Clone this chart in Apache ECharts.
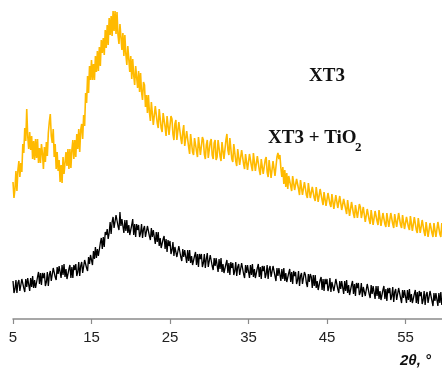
<!DOCTYPE html>
<html>
<head>
<meta charset="utf-8">
<script src="https://cdn.jsdelivr.net/npm/echarts@6/dist/echarts.min.js"></script>
<style>
html,body{margin:0;padding:0;background:#fff;}
#chart{width:442px;height:369px;}
</style>
</head>
<body>
<div id="chart"></div>
<script>
// 2θ scan positions (degrees), one row per degree
const twoTheta = [
5,5.125,5.25,5.375,5.5,5.625,5.75,5.875,
6,6.125,6.25,6.375,6.5,6.625,6.75,6.875,
7,7.125,7.25,7.375,7.5,7.625,7.75,7.875,
8,8.125,8.25,8.375,8.5,8.625,8.75,8.875,
9,9.125,9.25,9.375,9.5,9.625,9.75,9.875,
10,10.125,10.25,10.375,10.5,10.625,10.75,10.875,
11,11.125,11.25,11.375,11.5,11.625,11.75,11.875,
12,12.125,12.25,12.375,12.5,12.625,12.75,12.875,
13,13.125,13.25,13.375,13.5,13.625,13.75,13.875,
14,14.125,14.25,14.375,14.5,14.625,14.75,14.875,
15,15.125,15.25,15.375,15.5,15.625,15.75,15.875,
16,16.125,16.25,16.375,16.5,16.625,16.75,16.875,
17,17.125,17.25,17.375,17.5,17.625,17.75,17.875,
18,18.125,18.25,18.375,18.5,18.625,18.75,18.875,
19,19.125,19.25,19.375,19.5,19.625,19.75,19.875,
20,20.125,20.25,20.375,20.5,20.625,20.75,20.875,
21,21.125,21.25,21.375,21.5,21.625,21.75,21.875,
22,22.125,22.25,22.375,22.5,22.625,22.75,22.875,
23,23.125,23.25,23.375,23.5,23.625,23.75,23.875,
24,24.125,24.25,24.375,24.5,24.625,24.75,24.875,
25,25.125,25.25,25.375,25.5,25.625,25.75,25.875,
26,26.125,26.25,26.375,26.5,26.625,26.75,26.875,
27,27.125,27.25,27.375,27.5,27.625,27.75,27.875,
28,28.125,28.25,28.375,28.5,28.625,28.75,28.875,
29,29.125,29.25,29.375,29.5,29.625,29.75,29.875,
30,30.125,30.25,30.375,30.5,30.625,30.75,30.875,
31,31.125,31.25,31.375,31.5,31.625,31.75,31.875,
32,32.125,32.25,32.375,32.5,32.625,32.75,32.875,
33,33.125,33.25,33.375,33.5,33.625,33.75,33.875,
34,34.125,34.25,34.375,34.5,34.625,34.75,34.875,
35,35.125,35.25,35.375,35.5,35.625,35.75,35.875,
36,36.125,36.25,36.375,36.5,36.625,36.75,36.875,
37,37.125,37.25,37.375,37.5,37.625,37.75,37.875,
38,38.125,38.25,38.375,38.5,38.625,38.75,38.875,
39,39.125,39.25,39.375,39.5,39.625,39.75,39.875,
40,40.125,40.25,40.375,40.5,40.625,40.75,40.875,
41,41.125,41.25,41.375,41.5,41.625,41.75,41.875,
42,42.125,42.25,42.375,42.5,42.625,42.75,42.875,
43,43.125,43.25,43.375,43.5,43.625,43.75,43.875,
44,44.125,44.25,44.375,44.5,44.625,44.75,44.875,
45,45.125,45.25,45.375,45.5,45.625,45.75,45.875,
46,46.125,46.25,46.375,46.5,46.625,46.75,46.875,
47,47.125,47.25,47.375,47.5,47.625,47.75,47.875,
48,48.125,48.25,48.375,48.5,48.625,48.75,48.875,
49,49.125,49.25,49.375,49.5,49.625,49.75,49.875,
50,50.125,50.25,50.375,50.5,50.625,50.75,50.875,
51,51.125,51.25,51.375,51.5,51.625,51.75,51.875,
52,52.125,52.25,52.375,52.5,52.625,52.75,52.875,
53,53.125,53.25,53.375,53.5,53.625,53.75,53.875,
54,54.125,54.25,54.375,54.5,54.625,54.75,54.875,
55,55.125,55.25,55.375,55.5,55.625,55.75,55.875,
56,56.125,56.25,56.375,56.5,56.625,56.75,56.875,
57,57.125,57.25,57.375,57.5,57.625,57.75,57.875,
58,58.125,58.25,58.375,58.5,58.625,58.75,58.875,
59,59.125,59.25,59.375,59.5,59.625,59.75,59.875
];

// XT3 + TiO2 (orange trace), intensity a.u.
const xt3TiO2 = [
137,121,130,148,128,149,158,142,
156,147,175,166,191,178,210,183,
170,187,169,183,160,178,159,180,
161,180,156,171,156,175,166,150,
172,157,177,163,186,197,205,183,
176,190,162,175,150,167,148,159,
137,154,136,162,145,143,167,153,
170,150,170,151,169,179,160,179,
162,185,170,190,167,189,195,180,
204,193,226,216,243,226,253,239,
259,239,255,239,263,247,268,248,
272,253,279,266,281,264,289,271,
294,274,301,284,303,283,308,288,
308,285,307,284,275,295,293,269,
286,263,284,265,254,273,271,247,
263,240,260,244,234,253,253,231,
248,227,246,227,219,237,234,212,
224,206,224,207,198,217,216,194,
193,213,213,196,191,210,211,191,
187,206,207,192,183,203,203,184,
183,203,200,185,179,195,199,179,
179,197,198,181,175,187,194,173,
172,188,189,172,165,185,185,167,
164,181,182,168,162,182,182,164,
163,182,179,165,160,174,179,161,
159,177,180,164,160,176,179,159,
162,179,178,163,158,177,179,160,
161,179,185,169,164,181,180,160,
157,175,174,158,153,170,171,154,
152,169,170,155,150,165,167,149,
148,165,166,153,148,166,166,148,
146,163,164,149,144,160,162,145,
143,159,162,147,142,159,159,141,
140,158,157,143,145,162,166,160,
164,151,142,152,135,149,132,146,
130,143,144,133,128,143,142,129,
127,140,140,130,124,139,137,124,
123,137,135,124,121,136,134,121,
119,132,134,121,118,132,130,117,
117,130,129,119,114,127,128,113,
113,126,126,115,112,125,124,110,
111,124,122,111,109,123,121,109,
107,120,120,110,105,119,117,103,
104,117,116,105,101,114,114,101,
100,115,112,101,99,112,111,97,
96,110,109,99,95,109,108,94,
95,108,108,98,94,109,107,93,
93,106,107,95,92,106,105,92,
93,106,105,95,91,105,105,92,
91,106,104,94,91,104,103,90,
89,102,104,92,89,103,101,88,
89,102,101,89,86,101,99,86,
85,99,97,87,83,97,97,82,
83,96,96,86,82,96,95,82,
83,97,96,85,82,96,95,82
];

// XT3 (black trace), intensity a.u.
const xt3 = [
38,26,30,39,26,36,39,28,
28,40,38,31,27,40,32,41,
39,28,41,32,43,31,39,31,
32,42,47,35,46,34,46,41,
46,33,37,47,33,44,48,38,
39,51,50,42,39,52,45,53,
51,41,54,44,55,42,50,40,
41,50,54,41,52,41,54,49,
55,43,47,57,43,53,57,46,
47,59,58,51,48,62,55,64,
63,54,68,60,72,61,70,63,
65,76,81,70,82,72,87,84,
90,80,86,97,85,97,102,91,
91,104,102,93,89,107,93,100,
98,86,99,88,99,86,94,84,
85,94,100,84,95,82,95,89,
94,82,86,95,81,90,93,82,
82,93,91,83,79,91,82,89,
87,75,87,77,87,73,81,71,
72,80,83,70,80,67,79,73,
78,65,69,77,63,72,74,62,
62,73,71,62,58,70,62,69,
67,56,69,58,69,56,63,54,
55,63,67,54,65,52,65,60,
65,52,56,65,51,60,66,52,
52,64,62,53,49,61,53,61,
59,47,60,50,61,47,55,46,
47,55,59,46,56,44,57,51,
56,44,48,57,43,52,55,44,
44,56,54,45,41,54,46,54,
52,41,54,44,55,42,50,41,
42,51,55,42,52,40,53,48,
53,41,45,54,40,50,53,42,
41,53,51,43,38,51,43,51,
49,38,50,40,51,38,46,37,
37,46,50,37,47,35,48,43,
47,35,39,48,33,43,46,35,
35,47,44,36,32,45,37,45,
42,31,44,33,44,31,38,29,
30,39,42,29,40,28,40,35,
40,28,32,41,27,37,39,28,
28,40,38,30,26,38,30,38,
36,25,38,28,39,26,34,24,
25,34,38,25,35,23,36,31,
36,24,27,36,22,32,34,23,
23,35,33,25,21,34,25,33,
31,20,33,23,33,20,28,19,
20,29,33,20,30,18,31,26,
31,19,23,32,17,27,30,19,
19,31,29,21,16,29,21,29,
27,16,29,19,30,17,25,16,
16,25,29,16,27,15,28,23,
27,15,19,28,14,24,27,16,
16,28,26,18,13,26,18,26,
24,13,26,16,27,14,22,13
];

const tickValues = [5, 15, 25, 35, 45, 55];
const labelTop = 'XT3';
const labelBottomMain = 'XT3 + TiO';
const labelBottomSub = '2';
const axisTitle = '2θ, °';

const chart = echarts.init(document.getElementById('chart'), null, {renderer: 'canvas'});

const option = {
  animation: false,
  backgroundColor: '#ffffff',
  grid: {left: 13, right: 0, top: 0, bottom: 50, containLabel: false},
  xAxis: {
    type: 'value',
    min: 5,
    max: 59.65,
    axisLine: {show: true, lineStyle: {color: '#8a8a8a', width: 1.5}},
    axisTick: {show: true, length: 5, customValues: tickValues, lineStyle: {color: '#8a8a8a', width: 1.2}},
    axisLabel: {
      customValues: tickValues,
      margin: 11,
      fontFamily: 'Liberation Sans, Arial, sans-serif',
      fontSize: 15,
      color: '#222'
    },
    splitLine: {show: false}
  },
  yAxis: {
    type: 'value',
    min: 0,
    max: 319,
    show: false,
    splitLine: {show: false}
  },
  series: [
    {
      name: 'XT3',
      type: 'line',
      data: twoTheta.map((t, i) => [t, xt3[i]]),
      symbol: 'none',
      lineStyle: {color: '#000000', width: 1.3},
      z: 2
    },
    {
      name: 'XT3 + TiO2',
      type: 'line',
      data: twoTheta.map((t, i) => [t, xt3TiO2[i]]),
      symbol: 'none',
      lineStyle: {color: '#FFBA00', width: 1.6},
      z: 3
    }
  ],
  graphic: [
    {
      type: 'text', left: 309, top: 67, z: 10,
      style: {text: labelTop, font: 'bold 19px "Liberation Serif", "Times New Roman", serif', fill: '#111'}
    },
    {
      type: 'text', left: 268, top: 129, z: 10,
      style: {text: labelBottomMain, font: 'bold 19px "Liberation Serif", "Times New Roman", serif', fill: '#111'}
    },
    {
      type: 'text', left: 355, top: 141, z: 10,
      style: {text: labelBottomSub, font: 'bold 13px "Liberation Serif", "Times New Roman", serif', fill: '#111'}
    },
    {
      type: 'text', left: 400, top: 353, z: 10,
      style: {text: axisTitle, font: 'italic bold 15px "Liberation Sans", Arial, sans-serif', fill: '#111'}
    }
  ]
};
chart.setOption(option);
</script>
</body>
</html>
